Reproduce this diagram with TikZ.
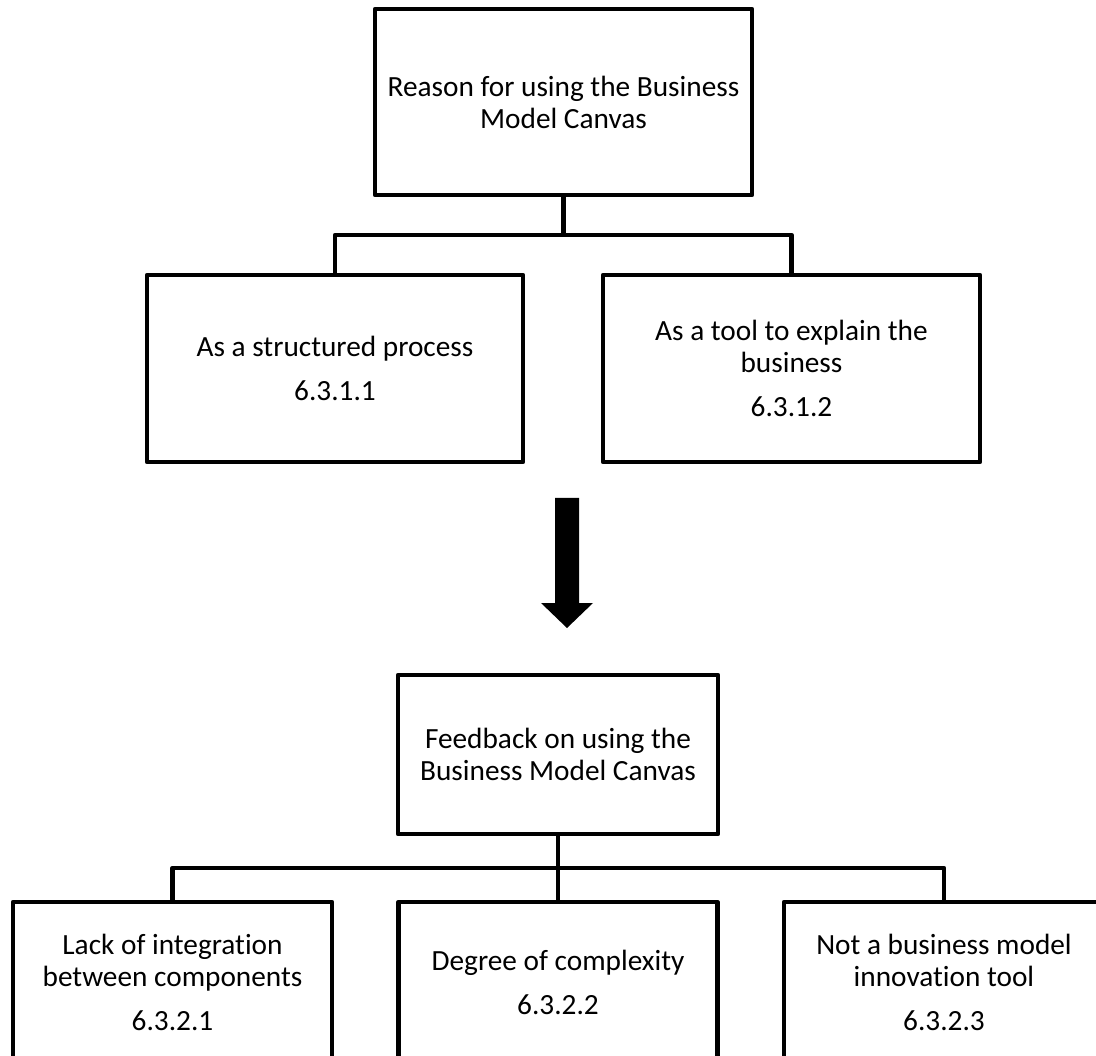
\documentclass[tikz,border=0pt]{standalone}
\usepackage{fontspec}
\setmainfont[Ligatures=NoCommon]{Carlito}
\begin{document}
\begin{tikzpicture}[x=1pt,y=1pt,
  box/.style={draw=black, line width=4.5pt, line join=round, align=center, inner sep=0pt,
    font=\fontsize{29.3}{32}\selectfont},
  link/.style={draw=black, line width=4.5pt, line join=round}]
\useasboundingbox (0,0) rectangle (1096,-1056);
\clip (0,0) rectangle (1096,-1056);
% top level
\node[box, minimum width=377pt, minimum height=186pt] (top) at (563.5,-102)
  {Reason for using the Business\\Model Canvas};
\node[box, minimum width=376pt, minimum height=187pt] (l1) at (335,-368.5)
  {As a structured process\\[12pt]6.3.1.1};
\node[box, minimum width=377pt, minimum height=187pt] (r1) at (791.5,-368.5)
  {As a tool to explain the\\business\\[12pt]6.3.1.2};
\coordinate (j1) at (563.5,-235);
\draw[link] (top.south) -- (j1);
\draw[link] (l1.north) |- (j1) -| (r1.north);
% big arrow
\fill[black] (555,-498) -- (579,-498) -- (579,-603) -- (593,-603) -- (567,-628)
  -- (541,-603) -- (555,-603) -- cycle;
% second level
\node[box, minimum width=320pt, minimum height=159pt] (fb) at (558,-754.5)
  {Feedback on using the\\Business Model Canvas};
\node[box, minimum width=319pt, minimum height=160pt] (b1) at (172.5,-982)
  {Lack of integration\\between components\\[12pt]6.3.2.1};
\node[box, minimum width=319pt, minimum height=160pt] (b2) at (558,-982)
  {Degree of complexity\\[12pt]6.3.2.2};
\node[box, minimum width=320pt, minimum height=160pt] (b3) at (944,-982)
  {Not a business model\\innovation tool\\[12pt]6.3.2.3};
\coordinate (j2) at (558,-868);
\draw[link] (fb.south) -- (b2.north);
\draw[link] (b1.north) |- (j2) -| (b3.north);
\end{tikzpicture}
\end{document}
